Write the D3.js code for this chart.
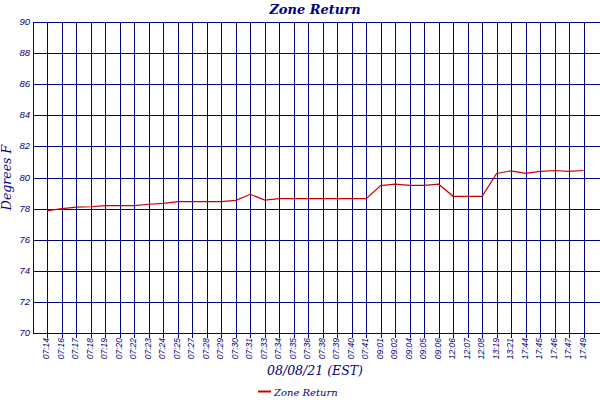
<!DOCTYPE html>
<html><head><meta charset="utf-8">
<script src="https://cdn.jsdelivr.net/npm/d3@7"></script>
<style>
html,body{margin:0;padding:0;background:#fff;}
svg{display:block;}
</style></head>
<body>
<script>
const categories = ["07:14","07:16","07:17","07:18","07:19","07:20","07:22","07:23","07:24","07:25","07:27","07:28","07:29","07:30","07:31","07:33","07:34","07:35","07:36","07:38","07:39","07:40","07:41","09:01","09:02","09:04","09:05","09:06","12:06","12:07","12:08","13:19","13:21","17:44","17:45","17:46","17:47","17:49"];
const zoneReturn = [77.87,78.0,78.1,78.12,78.19,78.19,78.19,78.28,78.34,78.45,78.45,78.45,78.45,78.53,78.92,78.55,78.64,78.64,78.64,78.64,78.64,78.64,78.64,79.48,79.57,79.5,79.5,79.57,78.79,78.79,78.79,80.26,80.43,80.26,80.39,80.45,80.39,80.45];
const yTicks = [70,72,74,76,78,80,82,84,86,88,90];
const title = "Zone Return";
const xTitle = "08/08/21 (EST)";
const yTitle = "Degrees F";
const seriesName = "Zone Return";

(function () {
const W = 600, H = 400;
const navy = "#000080", red = "#cc0000";
const pLeft = 33, pRight = 600, pTop = 22, pBottom = 333;
const px = v => Math.round(v) + 0.5;

const svg = d3.select("body").append("svg").attr("width", W).attr("height", H);

const x = d3.scalePoint().domain(categories).range([pLeft, 598]).padding(1);
const y = d3.scaleLinear().domain([70, 90]).range([pBottom, pTop]);

// horizontal grid
svg.append("g").selectAll("line").data(yTicks).join("line")
  .attr("x1", pLeft).attr("x2", pRight)
  .attr("y1", d => px(y(d))).attr("y2", d => px(y(d)))
  .attr("stroke", navy).attr("stroke-width", 1);
// vertical grid
svg.append("g").selectAll("line").data(categories).join("line")
  .attr("x1", d => px(x(d))).attr("x2", d => px(x(d)))
  .attr("y1", pTop).attr("y2", pBottom + 5)
  .attr("stroke", navy).attr("stroke-width", 1);
// left axis line
svg.append("line").attr("x1", px(pLeft)).attr("x2", px(pLeft)).attr("y1", pTop).attr("y2", pBottom + 1)
  .attr("stroke", navy).attr("stroke-width", 1);

// y tick labels
svg.append("g").selectAll("text").data(yTicks).join("text")
  .attr("x", 30).attr("y", d => y(d) + 3)
  .attr("text-anchor", "end")
  .attr("font-family", "Liberation Sans, Arial, sans-serif")
  .attr("font-style", "italic").attr("font-size", 9.5)
  .attr("fill", navy).text(d => d);

// x tick labels
svg.append("g").selectAll("text").data(categories).join("text")
  .attr("transform", d => `translate(${x(d) + 2},${pBottom + 5}) rotate(-90)`)
  .attr("text-anchor", "end")
  .attr("font-family", "Liberation Sans, Arial, sans-serif")
  .attr("font-style", "italic").attr("font-size", 8.5)
  .attr("fill", navy).text(d => d);

// line
const line = d3.line().x((d, i) => x(categories[i])).y(d => y(d));
svg.append("path").datum(zoneReturn).attr("d", line)
  .attr("fill", "none").attr("stroke", red).attr("stroke-width", 1.2);

// title
svg.append("text").attr("x", 315).attr("y", 14).attr("text-anchor", "middle")
  .attr("font-family", "DejaVu Serif, serif")
  .attr("font-style", "italic").attr("font-weight", "bold").attr("font-size", 13)
  .attr("fill", navy).text(title);

// x title
svg.append("text").attr("x", 315).attr("y", 375).attr("text-anchor", "middle")
  .attr("font-family", "DejaVu Serif, serif")
  .attr("font-style", "italic").attr("font-size", 12.5)
  .attr("fill", navy).text(xTitle);

// y title
svg.append("text").attr("transform", `translate(11,${(pTop + pBottom) / 2}) rotate(-90)`)
  .attr("text-anchor", "middle")
  .attr("font-family", "DejaVu Serif, serif")
  .attr("font-style", "italic").attr("font-size", 12.5)
  .attr("fill", navy).text(yTitle);

// legend
svg.append("line").attr("x1", 258).attr("x2", 271).attr("y1", 391.5).attr("y2", 391.5)
  .attr("stroke", red).attr("stroke-width", 2);
svg.append("text").attr("x", 274).attr("y", 396)
  .attr("font-family", "DejaVu Serif, serif")
  .attr("font-style", "italic").attr("font-size", 10)
  .attr("fill", navy).text(seriesName);
})();
</script>
</body></html>
